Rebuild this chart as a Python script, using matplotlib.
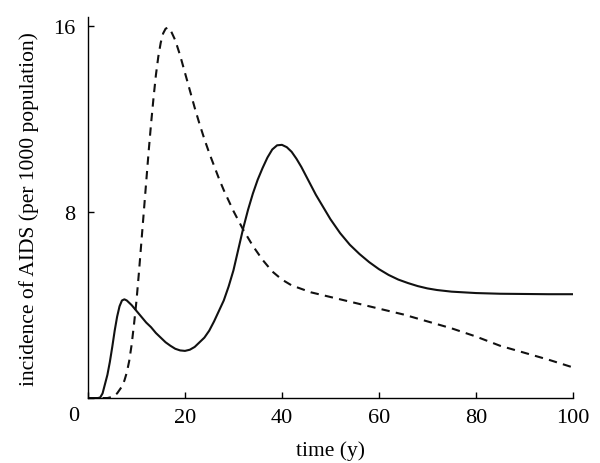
import matplotlib
matplotlib.use("Agg")
import matplotlib.pyplot as plt

# solid curve (time in years, incidence per 1000)
t_solid = [0, 2, 2.5, 3, 3.5, 4, 4.5, 5, 5.5, 6, 6.5, 7, 7.5, 8, 9, 10, 11, 12, 13, 14,
           15, 16, 17, 18, 19, 20, 21, 22, 23, 24, 25, 26, 27, 28, 29, 30, 31, 32, 33, 34,
           35, 36, 37, 38, 39, 40, 41, 42, 43, 44, 45, 46, 47, 48, 50, 52, 54, 56, 58, 60,
           62, 64, 66, 68, 70, 72, 75, 80, 85, 90, 95, 100]
y_solid = [0, 0, 0.02, 0.2, 0.6, 1.0, 1.55, 2.2, 2.9, 3.5, 3.95, 4.2, 4.25, 4.2, 4.0, 3.75, 3.5, 3.25, 3.05, 2.8,
           2.6, 2.4, 2.25, 2.12, 2.05, 2.03, 2.08, 2.2, 2.4, 2.6, 2.9, 3.3, 3.75, 4.2, 4.8, 5.5, 6.4, 7.3, 8.1, 8.8,
           9.4, 9.9, 10.35, 10.7, 10.88, 10.9, 10.8, 10.6, 10.3, 9.95, 9.55, 9.15, 8.75, 8.4, 7.7, 7.1, 6.6, 6.2, 5.85, 5.55,
           5.3, 5.1, 4.95, 4.82, 4.72, 4.65, 4.58, 4.52, 4.49, 4.48, 4.47, 4.47]

# dashed curve
t_dash = [0, 4, 5, 6, 7, 7.5, 8, 8.5, 9, 9.5, 10, 10.5, 11, 11.5, 12, 12.5, 13, 13.5, 14, 14.5,
          15, 15.5, 16, 16.5, 17, 18, 19, 20, 21, 22, 23, 24, 25, 26, 27, 28, 29, 30, 32, 34,
          36, 38, 40, 42, 44, 46, 50, 55, 60, 65, 70, 75, 80, 85, 90, 95, 100]
y_dash = [0, 0, 0.05, 0.2, 0.5, 0.75, 1.1, 1.6, 2.3, 3.2, 4.2, 5.4, 6.7, 8.0, 9.3, 10.6, 11.8, 12.9, 13.9, 14.7,
          15.3, 15.7, 15.9, 15.95, 15.85, 15.4, 14.75, 14.0, 13.25, 12.5, 11.8, 11.15, 10.55, 10.0, 9.45, 8.95, 8.5, 8.05, 7.25, 6.55,
          5.95, 5.45, 5.1, 4.85, 4.7, 4.55, 4.35, 4.1, 3.85, 3.6, 3.3, 3.0, 2.65, 2.25, 1.95, 1.65, 1.32]

xticks = [0, 20, 40, 60, 80, 100]
xlabels = ['', '20', '40', '60', '80', '100']
yticks = [0, 8, 16]
ylabels = ['', '8', '16']

plt.rcParams['font.family'] = ['Liberation Serif', 'DejaVu Serif']

fig = plt.figure(figsize=(6, 4.64), dpi=100)
ax = fig.add_axes([0.1467, 0.140, 0.808, 0.821])

ax.plot(t_solid, y_solid, color='#111111', lw=1.5)
ax.plot(t_dash, y_dash, color='#111111', lw=1.5, dashes=(4, 3))

ax.set_xlim(0, 100)
ax.set_ylim(0, 16.4)
ax.set_xticks(xticks, xlabels)
ax.set_yticks(yticks, ylabels)
ax.tick_params(direction='in', length=4, width=1, labelsize=16)
ax.tick_params(axis='x', pad=7)
ax.tick_params(axis='y', pad=9)
for s in ['top', 'right']:
    ax.spines[s].set_visible(False)
for s in ['left', 'bottom']:
    ax.spines[s].set_linewidth(1.0)

# shared origin label at the corner
ax.annotate('0', xy=(0, 0), xytext=(-14, -17), textcoords='offset pixels',
            ha='center', va='center', fontsize=16)

ax.set_xlabel('time (y)', fontsize=15.5, labelpad=10)
ax.set_ylabel('incidence of AIDS (per 1000 population)', fontsize=15.5, labelpad=10)

fig.savefig('out.png', dpi=100)
